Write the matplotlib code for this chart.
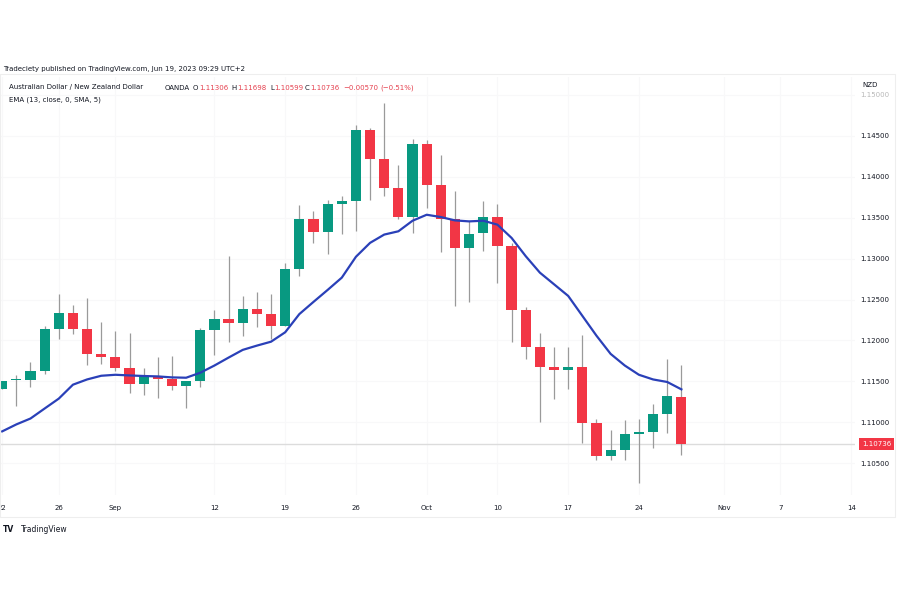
import matplotlib.pyplot as plt
from matplotlib.patches import Rectangle
from matplotlib.transforms import blended_transform_factory

# AUD/NZD daily candles (OANDA)
opens = [1.11410, 1.11512, 1.11521, 1.11633, 1.12140, 1.12337, 1.12140, 1.11836, 1.11803, 1.11666,
         1.11468, 1.11565, 1.11533, 1.11444, 1.11500, 1.12131, 1.12261, 1.12209, 1.12382, 1.12322,
         1.12180, 1.12876, 1.13487, 1.13325, 1.13665, 1.13697, 1.14575, 1.14211, 1.13859, 1.13507,
         1.14397, 1.13899, 1.13487, 1.13131, 1.13313, 1.13507, 1.13159, 1.12374, 1.11917, 1.11675,
         1.11634, 1.11675, 1.10987, 1.10595, 1.10663, 1.10853, 1.10877, 1.11096, 1.11306]
highs = [1.11510, 1.11573, 1.11736, 1.12180, 1.12564, 1.12431, 1.12524, 1.12221, 1.12119, 1.12091,
         1.11663, 1.11796, 1.11816, 1.11505, 1.12148, 1.12370, 1.13029, 1.12544, 1.12597, 1.12564,
         1.12940, 1.13657, 1.13575, 1.13717, 1.13766, 1.14627, 1.14600, 1.14894, 1.14142, 1.14466,
         1.14445, 1.14263, 1.13830, 1.13454, 1.13697, 1.13669, 1.13192, 1.12403, 1.12091, 1.11917,
         1.11917, 1.12067, 1.11047, 1.10905, 1.11027, 1.11047, 1.11229, 1.11775, 1.11698]
lows = [1.11405, 1.11197, 1.11432, 1.11585, 1.12018, 1.12079, 1.11703, 1.11715, 1.11633, 1.11363,
        1.11339, 1.11299, 1.11391, 1.11177, 1.11432, 1.11824, 1.11978, 1.12058, 1.12160, 1.12018,
        1.12180, 1.12786, 1.13192, 1.13058, 1.13305, 1.13333, 1.13717, 1.13766, 1.13480, 1.13313,
        1.13617, 1.13078, 1.12422, 1.12464, 1.13090, 1.12706, 1.11978, 1.11775, 1.11007, 1.11290,
        1.11403, 1.10744, 1.10541, 1.10541, 1.10541, 1.10258, 1.10683, 1.10865, 1.10599]
closes = [1.11500, 1.11530, 1.11633, 1.12140, 1.12337, 1.12140, 1.11836, 1.11803, 1.11666, 1.11472,
          1.11565, 1.11533, 1.11444, 1.11500, 1.12131, 1.12261, 1.12209, 1.12382, 1.12322, 1.12180,
          1.12876, 1.13487, 1.13325, 1.13665, 1.13697, 1.14575, 1.14211, 1.13859, 1.13507, 1.14397,
          1.13899, 1.13487, 1.13131, 1.13305, 1.13507, 1.13159, 1.12374, 1.11917, 1.11675, 1.11634,
          1.11675, 1.10987, 1.10595, 1.10663, 1.10853, 1.10877, 1.11096, 1.11323, 1.10736]

# EMA (13, close, 0, SMA, 5) line as drawn
ema = [1.10890, 1.10975, 1.11047, 1.11169, 1.11290, 1.11460, 1.11524, 1.11569, 1.11581, 1.11573,
       1.11566, 1.11561, 1.11549, 1.11545, 1.11606, 1.11694, 1.11791, 1.11885, 1.11937, 1.11985,
       1.12100, 1.12322, 1.12471, 1.12617, 1.12767, 1.13022, 1.13192, 1.13293, 1.13333, 1.13462,
       1.13535, 1.13507, 1.13466, 1.13454, 1.13462, 1.13414, 1.13252, 1.13029, 1.12828, 1.12686,
       1.12544, 1.12301, 1.12058, 1.11836, 1.11694, 1.11581, 1.11524, 1.11493, 1.11403]

# time axis (bar index -> label)
xtick_pos = [0, 4, 8, 15, 20, 25, 30, 35, 40, 45, 51, 55, 60]
xtick_labels = ['22', '26', 'Sep', '12', '19', '26', 'Oct', '10', '17', '24', 'Nov', '7', '14']
ytick_vals = [1.105, 1.110, 1.115, 1.120, 1.125, 1.130, 1.135, 1.140, 1.145, 1.150]
last_price = 1.10736

UP = '#089981'
DOWN = '#f23645'
TXT = '#131722'

fig = plt.figure(figsize=(9, 6), dpi=100)
W, H = 900, 600
ax = fig.add_axes([0, 1 - 495 / H, 855 / W, (495 - 77) / H])

n = len(opens)
xs = list(range(n))
colors = [UP if c >= o else DOWN for o, c in zip(opens, closes)]
bottoms = [min(o, c) for o, c in zip(opens, closes)]
heights = [max(abs(c - o), 0.00004) for o, c in zip(opens, closes)]

ax.axhline(last_price, color='#dcdcdc', lw=1, zorder=1)
ax.vlines(xs, lows, highs, color='#9a9a9a', lw=0.9, zorder=2)
ax.bar(xs, heights, bottom=bottoms, width=0.72, color=colors, edgecolor='none', zorder=3)
ax.plot(xs, ema, color='#2a40b8', lw=1.6, zorder=4)

ax.set_xlim(-0.155, 60.27)
ax.set_ylim(1.10113, 1.15217)
for s in ax.spines.values():
    s.set_visible(False)
ax.grid(True, color='#f8f8f9', lw=0.8, zorder=0)
ax.set_axisbelow(True)

ax.set_xticks(xtick_pos)
ax.set_xticklabels(xtick_labels)
ax.yaxis.tick_right()
ax.set_yticks(ytick_vals)
ax.set_yticklabels([f'{v:.5f}' for v in ytick_vals])
ax.tick_params(axis='both', length=0, labelsize=5, colors=TXT)
ax.tick_params(axis='x', pad=7)
ax.tick_params(axis='y', pad=3.6)
ax.get_yticklabels()[-1].set_color('#b8b8b8')

# last price tag
trans = blended_transform_factory(ax.transAxes, ax.transData)
ax.text(1.008, last_price, f'{last_price:.5f}', transform=trans, ha='left', va='center',
        fontsize=5, color='white', clip_on=False,
        bbox=dict(boxstyle='square,pad=0.45', fc=DOWN, ec='none'))

# frame
fig.add_artist(Rectangle((0.0, 1 - 517 / H), 895 / W, (517 - 74) / H, transform=fig.transFigure,
                         fill=False, ec='#eeeeee', lw=0.8))


def ftext(x, y, s, **kw):
    kw.setdefault('fontsize', 5)
    kw.setdefault('color', TXT)
    fig.text(x / W, 1 - y / H, s, va='center', ha='left', **kw)


ftext(3, 69, 'Tradeciety published on TradingView.com, Jun 19, 2023 09:29 UTC+2', fontsize=5.0)
ftext(9, 87.5, 'Australian Dollar / New Zealand Dollar')
ftext(165, 87.5, 'OANDA')
red = '#e5404e'
for lx, lab, vx, val in [(193, 'O', 199, '1.11306'), (231.5, 'H', 237.3, '1.11698'),
                         (270, 'L', 274.3, '1.10599'), (305, 'C', 310, '1.10736')]:
    ftext(lx, 87.5, lab)
    ftext(vx, 87.5, val, color=red)
ftext(343, 87.5, '\u22120.00570', color=red)
ftext(380, 87.5, '(\u22120.51%)', color=red)
ftext(9, 99.5, 'EMA (13, close, 0, SMA, 5)')
ftext(862, 85, 'NZD')

ftext(3, 530, 'TV', fontsize=5.5, fontweight='bold')
ftext(20.5, 530, 'TradingView', fontsize=5.5)

fig.savefig('out.png', dpi=100)
